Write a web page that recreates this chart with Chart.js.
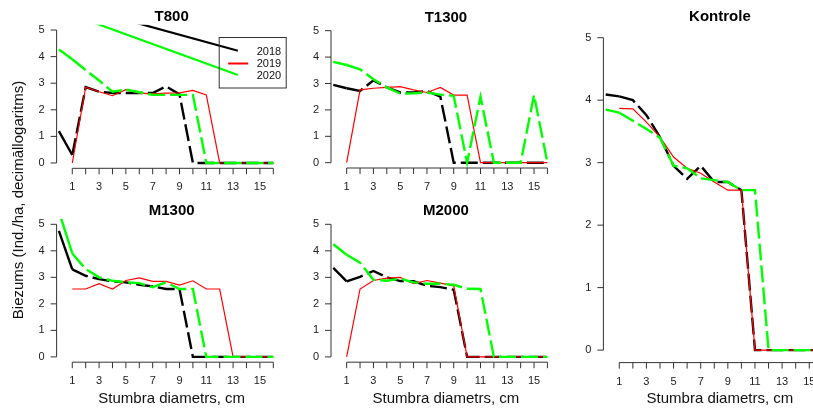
<!DOCTYPE html>
<html>
<head>
<meta charset="utf-8">
<script src="https://cdn.jsdelivr.net/npm/chart.js@4.4.1/dist/chart.umd.min.js"></script>
<style>
  html, body { margin: 0; padding: 0; background: #fff; overflow: hidden; }
  #page { position: relative; width: 813px; height: 410px; overflow: hidden; }
  #page canvas { position: absolute; left: 0; top: 0; }
</style>
</head>
<body>
<div id="page"></div>
<script>
// diameter classes (x) and axis ticks
const diam = [0, 1, 2, 3, 4, 5, 6, 7, 8, 9, 10, 11, 12, 13, 14, 15, 16];
const xTicks = [1, 2, 3, 4, 5, 6, 7, 8, 9, 10, 11, 12, 13, 14, 15, 16];
const xLabels = [1, 3, 5, 7, 9, 11, 13, 15];
const yTicks = [0, 1, 2, 3, 4, 5];
const years = ["2018", "2019", "2020"];

// log10 density per class
const t800_2018 = [1.2, 0.3, 2.85, 2.68, 2.63, 2.63, 2.63, 2.63, 2.88, 2.58, 0, 0, 0, 0, 0, 0, 0];
const t800_2019 = [null, 0, 2.85, 2.68, 2.53, 2.76, 2.63, 2.6, 2.63, 2.64, 2.73, 2.56, 0, 0, 0, 0, 0];
const t800_2020 = [4.27, 3.9, 3.49, 3.1, 2.68, 2.76, 2.66, 2.56, 2.56, 2.56, 2.56, 0, 0, 0, 0, 0, 0];

const t1300_2018 = [2.95, 2.82, 2.72, 3.12, 2.85, 2.66, 2.66, 2.72, 2.5, 0, 0, 0, 0, 0, 0, 0, 0];
const t1300_2019 = [null, 0, 2.76, 2.82, 2.85, 2.88, 2.76, 2.66, 2.85, 2.56, 2.56, 0, 0, 0, 0, 0, 0];
const t1300_2020 = [3.82, 3.7, 3.54, 3.16, 2.85, 2.62, 2.63, 2.66, 2.58, 2.53, 0, 2.5, 0, 0, 0, 2.56, 0];

const m1300_2018 = [4.75, 3.3, 3.06, 2.93, 2.85, 2.81, 2.72, 2.66, 2.56, 2.56, 0, 0, 0, 0, 0, 0, 0];
const m1300_2019 = [null, 2.56, 2.56, 2.76, 2.56, 2.88, 2.98, 2.85, 2.85, 2.71, 2.87, 2.56, 2.56, 0, 0, 0, 0];
const m1300_2020 = [5.49, 3.9, 3.31, 3.0, 2.87, 2.81, 2.78, 2.63, 2.81, 2.56, 2.56, 0, 0, 0, 0, 0, 0];

const m2000_2018 = [3.36, 2.85, 3.02, 3.24, 3.0, 2.86, 2.85, 2.68, 2.63, 2.53, 0, 0, 0, 0, 0, 0, 0];
const m2000_2019 = [null, 0, 2.56, 2.88, 2.97, 3.0, 2.76, 2.88, 2.78, 2.68, 0, 0, 0, 0, 0, 0, 0];
const m2000_2020 = [4.25, 3.85, 3.55, 2.91, 2.87, 2.95, 2.81, 2.76, 2.76, 2.72, 2.57, 2.56, 0, 0, 0, 0, 0];

const kon_2018 = [4.09, 4.06, 4.0, 3.76, 3.41, 2.95, 2.74, 2.95, 2.69, 2.69, 2.56, 0, 0, 0, 0, 0, 0];
const kon_2019 = [null, 3.87, 3.86, 3.65, 3.41, 3.09, 2.91, 2.83, 2.69, 2.56, 2.56, 0, 0, 0, 0, 0, 0];
const kon_2020 = [3.85, 3.8, 3.67, 3.54, 3.4, 2.95, 2.91, 2.75, 2.72, 2.69, 2.56, 2.56, 0, 0, 0, 0, 0];

// the two stray solid lines running into the T800 legend
const strayX = [1, 13.36];
const stray2018 = [5.93, 4.22];
const stray2020 = [5.57, 3.31];

const FONT = "'Liberation Sans', Arial, Helvetica, sans-serif";
const DASH = [17, 5];

// plot regions on the page: left, top, right, bottom
const panels = [
  { title: "T800", data: [t800_2018, t800_2019, t800_2020], area: [56.6, 24.7, 286.7, 168.3], legend: true },
  { title: "T1300", data: [t1300_2018, t1300_2019, t1300_2020], area: [331, 25.4, 560.8, 168] },
  { title: "M1300", data: [m1300_2018, m1300_2019, m1300_2020], area: [56.6, 219, 286.7, 362.2], xTitle: true, yTitle: true },
  { title: "M2000", data: [m2000_2018, m2000_2019, m2000_2020], area: [331, 219, 560.8, 362.2], xTitle: true },
  { title: "Kontrole", data: [kon_2018, kon_2019, kon_2020], area: [603.4, 25.2, 836.4, 362.6], xTitle: true }
];

const W = 840, H = 410;

function pts(xs, ys) {
  return ys.map((v, i) => ({ x: xs[i], y: v }));
}

const rAxes = {
  id: "rAxes",
  afterDraw(chart, args, opts) {
    const { ctx, chartArea: a, scales: { x, y } } = chart;
    ctx.save();
    ctx.strokeStyle = "#333";
    ctx.lineWidth = 1;
    ctx.beginPath();
    ctx.moveTo(a.left, y.getPixelForValue(0));
    ctx.lineTo(a.left, y.getPixelForValue(5));
    yTicks.forEach((v) => {
      const py = y.getPixelForValue(v);
      ctx.moveTo(a.left, py);
      ctx.lineTo(a.left - 6, py);
    });
    ctx.moveTo(x.getPixelForValue(xTicks[0]), a.bottom);
    ctx.lineTo(x.getPixelForValue(xTicks[xTicks.length - 1]), a.bottom);
    xTicks.forEach((v) => {
      const px = x.getPixelForValue(v);
      ctx.moveTo(px, a.bottom);
      ctx.lineTo(px, a.bottom + 6);
    });
    ctx.stroke();

    ctx.fillStyle = "#222";
    ctx.font = "11px " + FONT;
    ctx.textAlign = "right";
    ctx.textBaseline = "middle";
    yTicks.forEach((v) => ctx.fillText(String(v), a.left - 12, y.getPixelForValue(v)));
    ctx.textAlign = "center";
    xLabels.forEach((v) => ctx.fillText(String(v), x.getPixelForValue(v), a.bottom + 19));

    const cx = (a.left + a.right) / 2;
    ctx.fillStyle = "#000";
    ctx.font = "bold 15px " + FONT;
    ctx.fillText(opts.title, cx, a.top - 8);

    ctx.font = "15px " + FONT;
    ctx.fillStyle = "#111";
    if (opts.xTitle) ctx.fillText("Stumbra diametrs, cm", cx, 398.5);
    if (opts.yTitle) {
      ctx.save();
      ctx.translate(19, 200);
      ctx.rotate(-Math.PI / 2);
      ctx.fillText("Biezums (Ind./ha, decimāllogaritms)", 0, 0);
      ctx.restore();
    }

    if (opts.legend) {
      const right = a.right - 0.5, left = right - 67, top = 37.5, bottom = 88;
      ctx.strokeStyle = "#333";
      ctx.lineWidth = 1;
      ctx.strokeRect(left, top, right - left, bottom - top);
      ctx.strokeStyle = "#ff0000";
      ctx.lineWidth = 2;
      ctx.beginPath();
      ctx.moveTo(left + 9, 63.5);
      ctx.lineTo(left + 29, 63.5);
      ctx.stroke();
      ctx.fillStyle = "#111";
      ctx.font = "11px " + FONT;
      ctx.textAlign = "left";
      [52, 64, 76].forEach((ty, i) => ctx.fillText(years[i], left + 37.5, ty));
    }
    ctx.restore();
  }
};

const page = document.getElementById("page");

panels.forEach((p) => {
  const canvas = document.createElement("canvas");
  canvas.width = W;
  canvas.height = H;
  page.appendChild(canvas);

  const [l, t, r, b] = p.area;
  const firstSolid = { borderDash: (c) => (c.p0DataIndex === 0 ? [] : undefined) };

  const datasets = [
    { label: "2018", data: pts(diam, p.data[0]), borderColor: "#000000", borderWidth: 2.4, borderDash: DASH, segment: firstSolid, order: 2 },
    { label: "2019", data: pts(diam, p.data[1]), borderColor: "#ff0000", borderWidth: 1.2, order: 1 },
    { label: "2020", data: pts(diam, p.data[2]), borderColor: "#00ff00", borderWidth: 2.4, borderDash: DASH, segment: firstSolid, order: 0 }
  ];
  if (p.legend) {
    datasets.push({ label: "s2018", data: pts(strayX, stray2018), borderColor: "#000000", borderWidth: 2.2, order: 3 });
    datasets.push({ label: "s2020", data: pts(strayX, stray2020), borderColor: "#00ff00", borderWidth: 2.2, order: 3 });
  }

  new Chart(canvas.getContext("2d"), {
    type: "line",
    data: { datasets: datasets },
    options: {
      responsive: false,
      animation: false,
      events: [],
      layout: { padding: { left: l, top: t, right: W - r, bottom: H - b } },
      elements: { point: { radius: 0 }, line: { tension: 0, borderCapStyle: "butt" } },
      scales: {
        x: { type: "linear", min: -0.17, max: 17, display: false },
        y: { type: "linear", min: -0.2, max: 5.2, display: false }
      },
      plugins: {
        legend: { display: false },
        tooltip: { enabled: false },
        rAxes: { title: p.title, xTitle: p.xTitle, yTitle: p.yTitle, legend: p.legend }
      }
    },
    plugins: [rAxes]
  });
});
</script>
</body>
</html>
